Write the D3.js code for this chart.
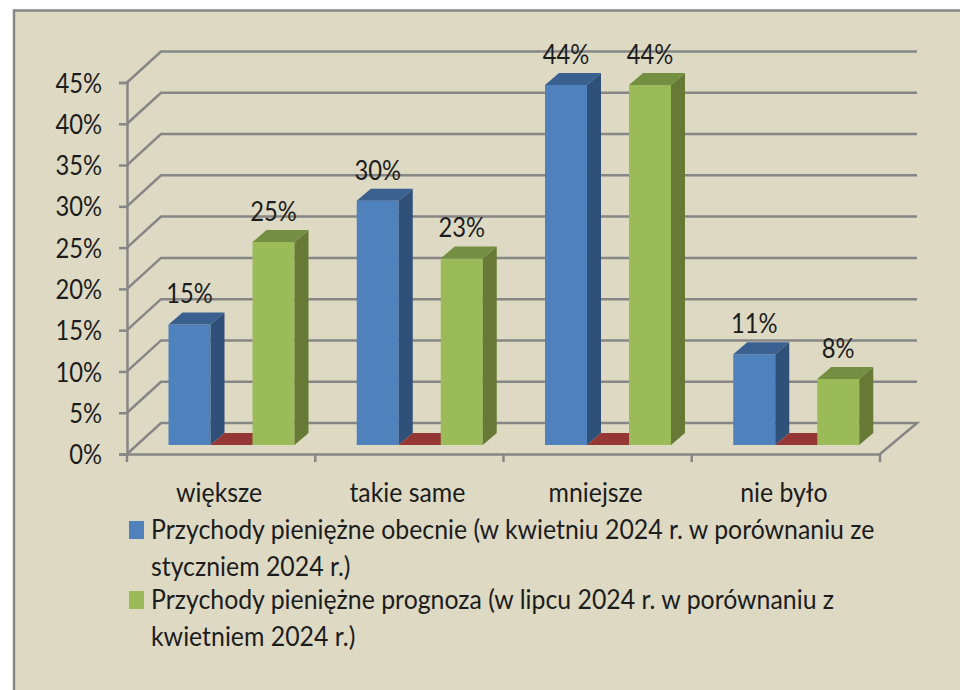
<!DOCTYPE html>
<html>
<head>
<meta charset="utf-8">
<script src="https://cdn.jsdelivr.net/npm/d3@7"></script>
<style>
  html, body { margin: 0; padding: 0; background: #fff; }
  svg { display: block; }
  text { font-family: Lato, "Open Sans", sans-serif; fill: #1c1c1c; }
</style>
</head>
<body>
<div id="chart"></div>
<script>
const categories = ["większe", "takie same", "mniejsze", "nie było"];
const seriesNames = ["obecnie", "brak", "prognoza"];
const obecnie = [14.6, 29.6, 43.6, 11];
const brak = [0, 0, 0, 0];
const prognoza = [24.6, 22.6, 43.6, 8];
const yTicks = [0, 5, 10, 15, 20, 25, 30, 35, 40, 45];
const legendItems = [
    { series: "obecnie", lines: ["Przychody pieniężne obecnie (w kwietniu 2024 r. w porównaniu ze", "styczniem 2024 r.)"] },
    { series: "prognoza", lines: ["Przychody pieniężne prognoza (w lipcu 2024 r. w porównaniu z", "kwietniem 2024 r.)"] }
];

const width = 960, height = 690;
const gridColor = "#868686";
const fontSize = 27;
const squeeze = 0.92; // source picture is stretched, text is narrow and tall
const squeezeNumbers = 0.88;

// front, side and top shade per series
const colors = {
    obecnie: { front: "#4F81BD", side: "#2F5079", top: "#3A6090" },
    brak: { front: "#953735", side: "#953735", top: "#953735" },
    prognoza: { front: "#9BBB59", side: "#667A35", top: "#748E42" }
};
const values = { obecnie, brak, prognoza };

const svg = d3.select("#chart").append("svg")
    .attr("width", width)
    .attr("height", height);

svg.append("rect")
    .attr("x", 14).attr("y", 10.5)
    .attr("width", width).attr("height", height)
    .attr("fill", "#DDD9C3")
    .attr("stroke", "#868686")
    .attr("stroke-width", 2.5);

// scales
const x = d3.scaleBand().domain(categories).range([127, 880]);
const xInner = d3.scaleBand().domain(seriesNames).range([41.5, 167.5]);
const y = d3.scaleLinear().domain([0, 45]).range([454, 82.5]);

// 3d offsets
const wallDx = 34, wallDy = -31;
const barDx = 14, barDy = -12;
const floorLift = 9;

// squeeze text horizontally
function narrow(sel, factor = squeeze) {
    sel.each(function () {
        const len = this.getComputedTextLength();
        d3.select(this)
            .attr("textLength", len * factor)
            .attr("lengthAdjust", "spacingAndGlyphs");
    });
}

// walls
const line = d3.line();
const grid = svg.append("g")
    .attr("fill", "none")
    .attr("stroke", gridColor)
    .attr("stroke-width", 2.5);

grid.selectAll("path")
    .data(yTicks)
    .join("path")
    .attr("d", d => {
        const x0 = x.range()[0], x1 = x.range()[1];
        if (d === 0) {
            return line([[x0, y(d)], [x0 + wallDx, y(d) + wallDy], [x1 + wallDx + 3, y(d) + wallDy], [x1, y(d)]]);
        }
        return line([[x0, y(d)], [x0 + wallDx, y(d) + wallDy], [x1 + wallDx + 3, y(d) + wallDy]]);
    });

// axes
const yAxis = d3.axisLeft(y)
    .tickValues(yTicks)
    .tickSize(8)
    .tickPadding(17)
    .tickFormat(d => d + "%");

const yAxisG = svg.append("g")
    .attr("transform", `translate(${x.range()[0]},0)`)
    .call(yAxis);

yAxisG.selectAll("text")
    .attr("y", 1)
    .style("font-family", "Lato")
    .style("font-size", fontSize + "px")
    .call(narrow, squeezeNumbers);

const xAxis = d3.axisBottom(x).tickSize(0).tickPadding(29);
const xAxisG = svg.append("g")
    .attr("transform", `translate(0,${y(0)})`)
    .call(xAxis);

xAxisG.selectAll(".tick text")
    .attr("dx", -2)
    .style("font-family", "Lato")
    .style("font-size", fontSize + "px")
    .call(narrow);

// tick marks sit on the band edges, not the centres
xAxisG.selectAll("line.edge")
    .data(d3.range(categories.length + 1))
    .join("line")
    .attr("class", "edge")
    .attr("x1", i => x.range()[0] + i * x.step())
    .attr("x2", i => x.range()[0] + i * x.step())
    .attr("y1", 0)
    .attr("y2", 8);

svg.selectAll(".domain, .tick line, line.edge")
    .attr("stroke", gridColor)
    .attr("stroke-width", 2.5);

// bars
const groups = svg.selectAll("g.cat")
    .data(categories)
    .join("g")
    .attr("class", "cat")
    .attr("transform", d => `translate(${x(d)},${-floorLift})`);

const bars = groups.selectAll("g.bar")
    .data((c, i) => seriesNames.map(s => ({ series: s, value: values[s][i] })))
    .join("g")
    .attr("class", "bar");

function face(d, pts) {
    return line(pts(xInner(d.series), xInner(d.series) + xInner.bandwidth(), y(d.value), y(0)));
}

bars.append("path")
    .attr("fill", d => colors[d.series].front)
    .attr("d", d => face(d, (l, r, t, b) => [[l, t], [r, t], [r, b], [l, b]]));

bars.append("path")
    .attr("fill", d => colors[d.series].side)
    .attr("d", d => face(d, (l, r, t, b) => [[r, t], [r + barDx, t + barDy], [r + barDx, b + barDy], [r, b]]));

bars.append("path")
    .attr("fill", d => colors[d.series].top)
    .attr("d", d => face(d, (l, r, t, b) => [[l, t], [l + barDx, t + barDy], [r + barDx, t + barDy], [r, t]]));

// data labels, the empty series has none
bars.filter(d => d.value > 0)
    .append("text")
    .attr("x", d => xInner(d.series) + xInner.bandwidth() / 2)
    .attr("y", d => y(d.value) - 21)
    .attr("text-anchor", "middle")
    .style("font-size", fontSize + "px")
    .text(d => Math.round(d.value) + "%")
    .call(narrow, squeezeNumbers);

// legend
const legendTop = { obecnie: 521, prognoza: 591 };
const legend = svg.selectAll("g.legend")
    .data(legendItems)
    .join("g")
    .attr("class", "legend")
    .attr("transform", d => `translate(129,${legendTop[d.series]})`);

legend.append("rect")
    .attr("width", 15)
    .attr("height", 18)
    .attr("fill", d => colors[d.series].front);

legend.selectAll("text")
    .data(d => d.lines)
    .join("text")
    .attr("x", 22)
    .attr("y", (d, i) => 18 + i * 37)
    .style("font-size", fontSize + "px")
    .text(d => d)
    .call(narrow);
</script>
</body>
</html>
